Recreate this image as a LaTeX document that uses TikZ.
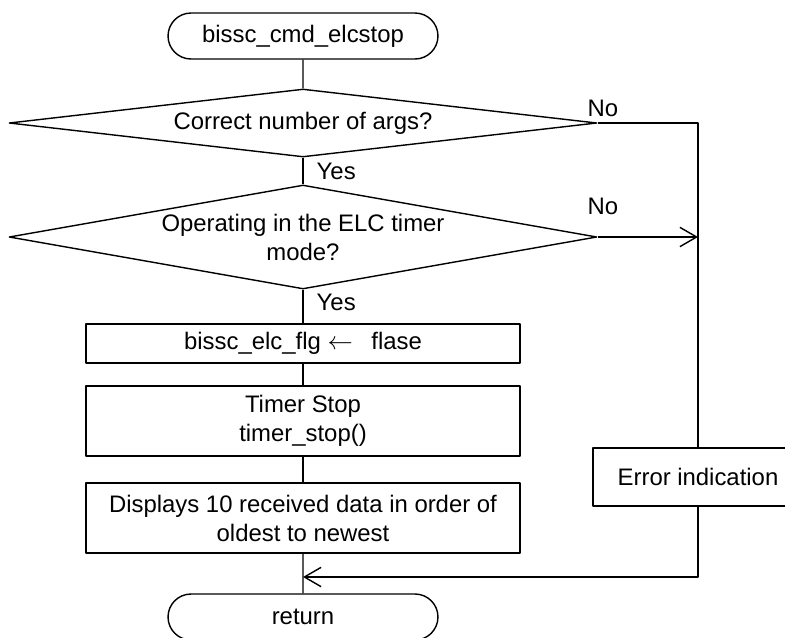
\documentclass[tikz,border=0pt]{standalone}
\usepackage{fontspec}
\setmainfont{Liberation Sans}
\usetikzlibrary{shapes.geometric,shapes.misc,arrows.meta}
\tikzset{
	term/.style={draw, rounded rectangle, minimum width=5.4cm, minimum height=0.92cm, inner sep=0pt},
	decide/.style={draw, diamond, minimum width=11.76cm, inner sep=0pt, align=center},
	proc/.style={draw, rectangle, minimum width=8.68cm, inner sep=0pt, align=center},
	lbl/.style={anchor=west, inner sep=0pt}
}
\begin{document}
\begin{tikzpicture}[x=0.02cm, y=-0.02cm, >={Straight Barb[length=9.5pt,width=11pt]}, line width=0.8pt, line join=round, font=\fontsize{13.6}{16.5}\selectfont]
		\def\xm{303} \def\xr{698}
		\useasboundingbox (0,0) rectangle (785,637);
		%\draw[gray!40] (0,0) grid[step=50] (785,637);
		\node[term] (start) at (\xm,36) {bissc\_cmd\_elcstop};
		\node[decide, minimum height=1.36cm, aspect=8.65] (args) at (\xm,123) {Correct number of args?};
		\node[decide, minimum height=2.08cm, aspect=5.65] (mode) at (\xm,237) {Operating in the ELC timer\\mode?};
		\node[proc, minimum height=0.78cm] (flg) at (\xm,343.5) {bissc\_elc\_flg \ensuremath{\leftarrow}\hspace{0.5em} flase};
		\node[proc, minimum height=1.4cm] (stop) at (\xm,421) {Timer Stop\\timer\_stop()};
		\node[proc, minimum height=1.4cm] (disp) at (\xm,518) {Displays 10 received data in order of\\oldest to newest};
		\node[proc, minimum width=4.2cm, minimum height=1.16cm] (err) at (\xr,477) {Error indication};
		\node[term] (ret) at (\xm,617) {return};
		\coordinate (mrg) at (\xm,577);
		% main flow
		\draw (start) -- (args);
		\draw (args) -- (mode);
		\draw (mode) -- (flg);
		\draw (flg) -- (stop);
		\draw (stop) -- (disp);
		\draw (disp) -- (ret);
		\node[lbl] (yes1) at (316,171) {Yes};
		\node[lbl] (yes2) at (316,302) {Yes};
		% error branch
		\draw (args.east) -| (err.north);
		\draw[->] (mode.east) -- (mode.east -| err.north);
		\draw[->] (err.south) |- (mrg);
		\node[lbl] (no1) at (587,108) {No};
		\node[lbl] (no2) at (587,206) {No};
	\end{tikzpicture}
\end{document}
